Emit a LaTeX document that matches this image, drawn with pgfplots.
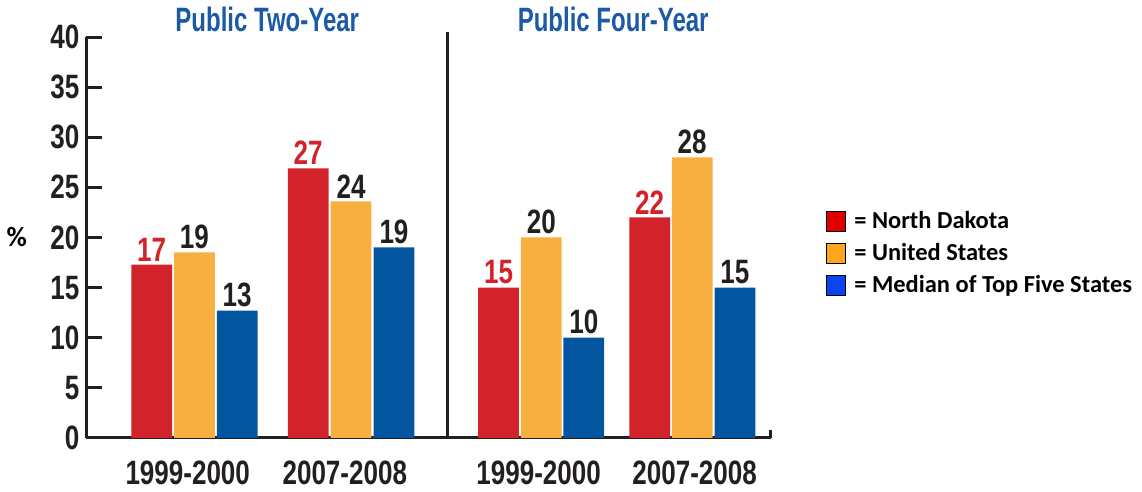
\documentclass[border=0pt]{standalone}
\usepackage{pgfplots}
\pgfplotsset{compat=1.18}
\usepackage{fontspec}
\newfontfamily\cond[FakeStretch=0.77]{Liberation Sans}
\newfontfamily\condt[FakeStretch=0.71]{Liberation Sans}
\newfontfamily\calfont{Carlito}

\definecolor{barred}{HTML}{D2232A}
\definecolor{baryel}{HTML}{F7AF3F}
\definecolor{barblu}{HTML}{03559F}
\definecolor{legred}{HTML}{E00000}
\definecolor{legyel}{HTML}{FBA61E}
\definecolor{legblu}{HTML}{0A45F0}
\definecolor{titblu}{HTML}{1C5AA6}
\definecolor{ink}{HTML}{231F20}

\begin{document}
\begin{tikzpicture}
\begin{axis}[
  x=0.5pt, y=5.04pt,
  xmin=90, xmax=779, ymin=0, ymax=40,
  axis x line=bottom, axis y line=left,
  axis line style={-, line width=1.5pt, draw=ink},
  clip=false,
  ytick={0,5,...,40},
  tick align=inside,
  major tick length=8pt,
  y tick style={line width=1.5pt, draw=ink},
  xtick={192,350,545,702},
  xticklabels={1999-2000,2007-2008,1999-2000,2007-2008},
  major x tick style={draw=none},
  /pgf/number format/assume math mode=true,
  ticklabel style={font=\cond\bfseries\fontsize{17}{19}\selectfont, text=ink},
  xticklabel style={yshift=0pt},
  ybar, bar width=41, bar shift=0pt,
  point meta=explicit symbolic,
  nodes near coords,
  every node near coord/.append style={font=\cond\bfseries\fontsize{17}{19}\selectfont, inner sep=1.5pt},
  legend cell align=left,
  legend style={draw=none, at={(1.07,0.46)}, anchor=west,
    font=\calfont\bfseries\fontsize{12.3}{14}\selectfont, row sep=2pt,
    /tikz/every even column/.append style={column sep=0pt}},
  legend image code/.code={\draw[#1, draw=black, line width=0.5pt] (0pt,-5pt) rectangle (10pt,5pt);},
]
\addplot[fill=barred, draw=none, forget plot,
  every node near coord/.append style={text=barred}]
  coordinates {(155.7,17.3) [17] (313.2,26.9) [27] (504.7,15) [15] (656.7,22) [22]};
\addplot[fill=baryel, draw=none, forget plot,
  every node near coord/.append style={text=ink}]
  coordinates {(198.7,18.5) [19] (356.3,23.6) [24] (547.7,20) [20] (699.5,28) [28]};
\addplot[fill=barblu, draw=none, forget plot,
  every node near coord/.append style={text=ink}]
  coordinates {(241.7,12.7) [13] (399.5,19) [19] (590.5,10) [10] (742.5,15) [15]};

\addlegendimage{fill=legred}
\addlegendentry{\hspace{2pt}= North Dakota}
\addlegendimage{fill=legyel}
\addlegendentry{\hspace{2pt}= United States}
\addlegendimage{fill=legblu}
\addlegendentry{\hspace{2pt}= Median of Top Five States}

\draw[line width=1.5pt, draw=ink] (axis cs:453,0) -- (axis cs:453,40.5);
\draw[line width=1.5pt, draw=ink] (axis cs:778,0) -- (axis cs:778,0.8);
\node[font=\condt\bfseries\fontsize{17}{19}\selectfont, text=titblu] at (axis cs:272,41.8) {Public Two-Year};
\node[font=\condt\bfseries\fontsize{17}{19}\selectfont, text=titblu] at (axis cs:620,41.8) {Public Four-Year};
\node[font=\calfont\bfseries\fontsize{14}{16}\selectfont, text=black] at (axis cs:20,20) {\%};
\end{axis}
\end{tikzpicture}
\end{document}
